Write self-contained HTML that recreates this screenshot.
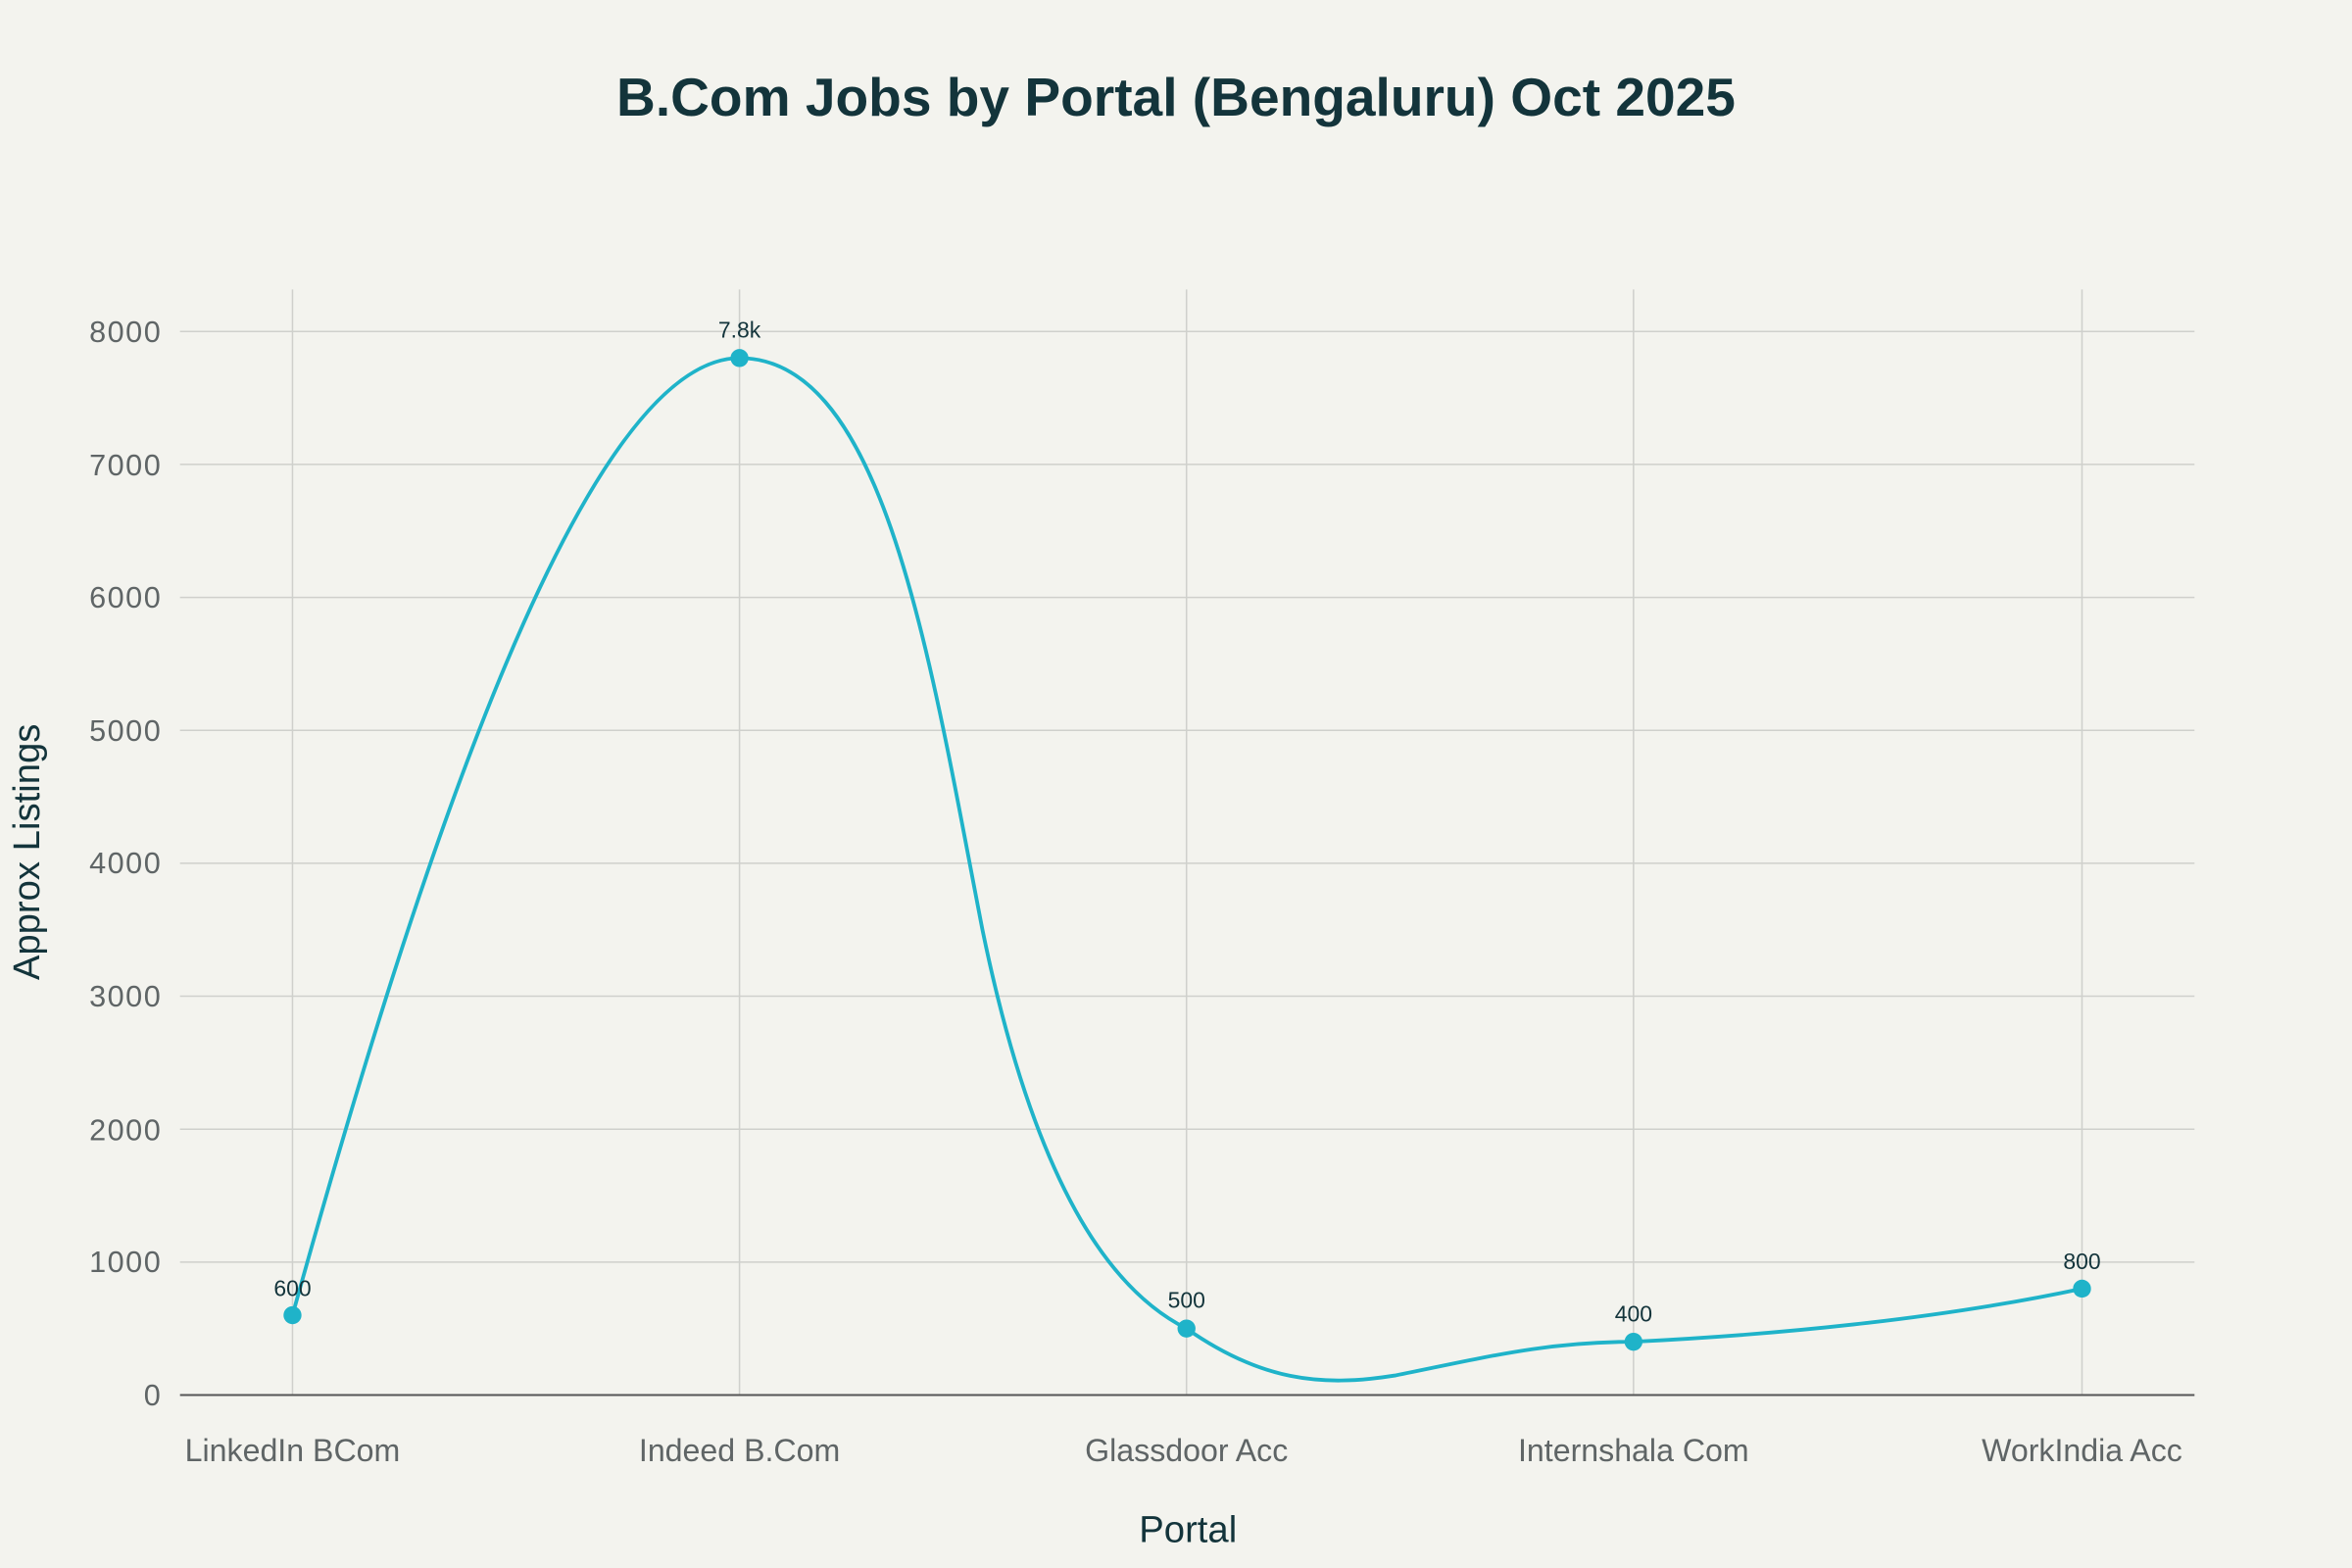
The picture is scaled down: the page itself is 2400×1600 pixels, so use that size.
<!DOCTYPE html>
<html><head><meta charset="utf-8"><style>
html,body{margin:0;padding:0;background:#f3f3ee;}
svg{display:block;font-family:"Liberation Sans",sans-serif;}
</style></head><body>
<svg width="2400" height="1600" viewBox="0 0 1568 1045.33" xmlns="http://www.w3.org/2000/svg">
<rect x="0" y="0" width="1568" height="1046" fill="#f3f3ee"/>
<text x="784" y="77" text-anchor="middle" font-size="36" font-weight="bold" fill="#13343b">B.Com Jobs by Portal (Bengaluru) Oct 2025</text>
<g stroke="#cfd0cc" stroke-width="1">
<line x1="120" x2="1463" y1="841.4" y2="841.4"/>
<line x1="120" x2="1463" y1="752.8" y2="752.8"/>
<line x1="120" x2="1463" y1="664.1" y2="664.1"/>
<line x1="120" x2="1463" y1="575.5" y2="575.5"/>
<line x1="120" x2="1463" y1="486.9" y2="486.9"/>
<line x1="120" x2="1463" y1="398.3" y2="398.3"/>
<line x1="120" x2="1463" y1="309.6" y2="309.6"/>
<line x1="120" x2="1463" y1="221" y2="221"/>
<line x1="195" x2="195" y1="193" y2="930"/>
<line x1="493" x2="493" y1="193" y2="930"/>
<line x1="791" x2="791" y1="193" y2="930"/>
<line x1="1089" x2="1089" y1="193" y2="930"/>
<line x1="1388" x2="1388" y1="193" y2="930"/>
</g>
<line x1="120" x2="1463" y1="930" y2="930" stroke="#555" stroke-width="1.3"/>
<g font-size="20" fill="#5f6566" text-anchor="end" letter-spacing="1">
<text x="108" y="937">0</text>
<text x="108" y="848">1000</text>
<text x="108" y="760">2000</text>
<text x="108" y="671">3000</text>
<text x="108" y="582">4000</text>
<text x="108" y="494">5000</text>
<text x="108" y="405">6000</text>
<text x="108" y="317">7000</text>
<text x="108" y="228">8000</text>
</g>
<g font-size="21" fill="#5f6566" text-anchor="middle">
<text x="195" y="974">LinkedIn BCom</text>
<text x="493" y="974">Indeed B.Com</text>
<text x="791" y="974">Glassdoor Acc</text>
<text x="1089" y="974">Internshala Com</text>
<text x="1388" y="974">WorkIndia Acc</text>
</g>
<text x="792" y="1028" text-anchor="middle" font-size="25" fill="#13343b">Portal</text>
<text transform="translate(26,568) rotate(-90)" text-anchor="middle" font-size="25" fill="#13343b">Approx Listings</text>
<path d="M195,876.8 C280,570 390,238.7 493,238.7 C590,238.7 620,440 655,620 C690,790 740,860 791,885.7 C840,920 880,925 930,917 C990,905 1030,894.5 1089,894.5 C1180,890 1290,880 1388,859.1" fill="none" stroke="#1fb3c9" stroke-width="2.5"/>
<g fill="#1fb3c9">
<circle cx="195" cy="876.8" r="6"/>
<circle cx="493" cy="238.7" r="6"/>
<circle cx="791" cy="885.7" r="6"/>
<circle cx="1089" cy="894.5" r="6"/>
<circle cx="1388" cy="859.1" r="6"/>
</g>
<g font-size="15" fill="#13343b" text-anchor="middle">
<text x="195" y="864">600</text>
<text x="493" y="225">7.8k</text>
<text x="791" y="872">500</text>
<text x="1089" y="881">400</text>
<text x="1388" y="846">800</text>
</g>
</svg>
</body></html>
